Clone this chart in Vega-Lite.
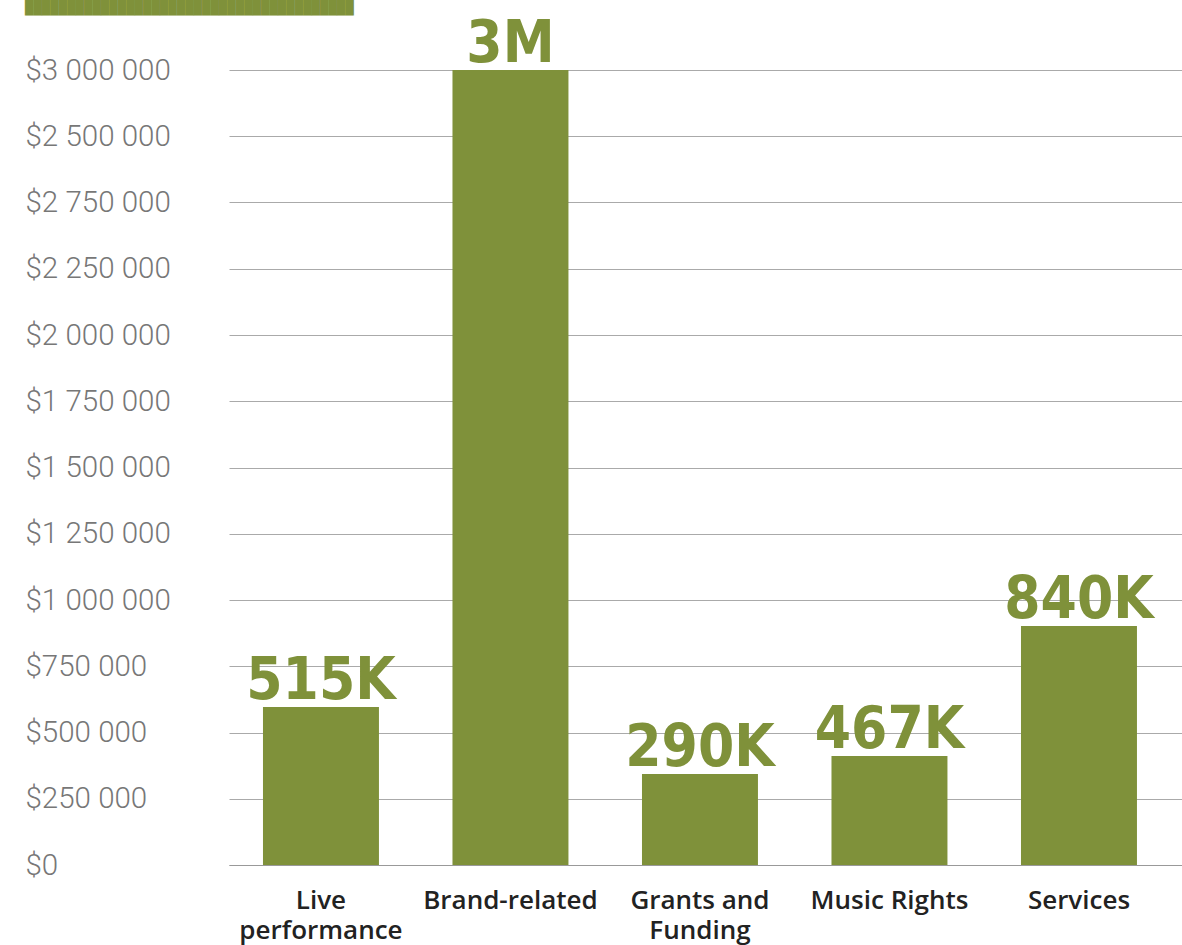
{
  "$schema": "https://vega.github.io/schema/vega-lite/v6.json",
  "width": 953,
  "height": 795,
  "autosize": "none",
  "padding": {"left": 229, "top": 70, "right": 0, "bottom": 80},
  "background": "white",
  "title": {
    "text": "███████████████████████████████████████",
    "font": "DejaVu Sans Mono",
    "fontSize": 14,
    "color": "#7f913a",
    "anchor": "start",
    "frame": "group",
    "dx": -204,
    "dy": 13,
    "offset": 0,
    "baseline": "bottom"
  },
  "data": {
    "values": [
      {"category": "Live\nperformance", "value": 596000, "label": "515K"},
      {"category": "Brand-related", "value": 3000000, "label": "3M"},
      {"category": "Grants and\nFunding", "value": 343000, "label": "290K"},
      {"category": "Music Rights", "value": 411000, "label": "467K"},
      {"category": "Services", "value": 902000, "label": "840K"}
    ]
  },
  "encoding": {
    "x": {
      "field": "category",
      "type": "nominal",
      "sort": null,
      "scale": {"paddingInner": 0.388, "paddingOuter": 0.2085, "align": 0.43},
      "axis": {
        "title": null,
        "labelAngle": 0,
        "labelExpr": "split(datum.label, '\\n')",
        "labelFont": "Open Sans",
        "labelFontWeight": 600,
        "labelFontSize": 26,
        "labelColor": "#222222",
        "labelLineHeight": 30,
        "labelPadding": 22,
        "labelOverlap": false,
        "ticks": false,
        "domain": true,
        "domainColor": "#999999",
        "domainWidth": 1,
        "grid": false
      }
    },
    "y": {
      "field": "value",
      "type": "quantitative",
      "scale": {"domain": [0, 3000000], "nice": false},
      "axis": {
        "title": null,
        "values": [0, 250000, 500000, 750000, 1000000, 1250000, 1500000, 1750000, 2000000, 2250000, 2500000, 2750000, 3000000],
        "labelExpr": "datum.value == 2750000 ? '$2 500 000' : datum.value == 2500000 ? '$2 750 000' : '$' + replace(replace(format(datum.value, ','), ',', ' '), ',', ' ')",
        "labelAlign": "left",
        "labelBaseline": "middle",
        "labelPadding": 204,
        "labelFont": "Roboto",
        "labelFontWeight": 300,
        "labelFontSize": 29.5,
        "labelColor": "#777777",
        "ticks": false,
        "domain": false,
        "grid": true,
        "gridColor": "#aaaaaa",
        "gridWidth": 1
      }
    }
  },
  "layer": [
    {"mark": {"type": "bar", "color": "#7f913a"}},
    {
      "mark": {
        "type": "text",
        "font": "DejaVu Sans Condensed, DejaVu Sans",
        "fontWeight": "bold",
        "fontSize": 58,
        "color": "#7f913a",
        "baseline": "alphabetic",
        "dy": -8
      },
      "encoding": {"text": {"field": "label"}}
    }
  ],
  "config": {"view": {"stroke": null}}
}
